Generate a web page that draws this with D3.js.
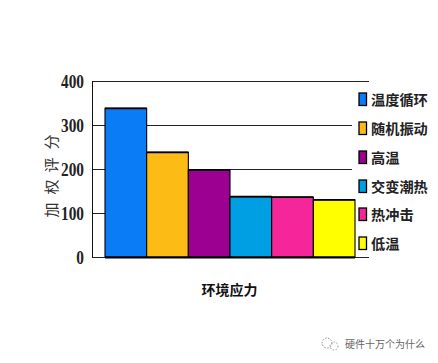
<!DOCTYPE html>
<html><head><meta charset="utf-8">
<script src="https://cdnjs.cloudflare.com/ajax/libs/d3/7.8.5/d3.min.js"></script>
<style>html,body{margin:0;padding:0;background:#fff}svg{display:block}</style></head>
<body><svg id="c" width="438" height="363"></svg>
<script>
const categories=["温度循环","随机振动","高温","交变潮热","热冲击","低温"];
const values=[338,238,198,137,136,130];
const colors=["#0a7cf5","#fdbb16","#9b0090","#009fe3","#f5259a","#ffff00"];
const yTicks=[0,100,200,300,400];
const yTitle="加权评分", xTitle="环境应力", watermark="硬件十万个为什么";
const svg=d3.select("#c");
const cjk='"Noto Sans CJK SC"';
const y=d3.scaleLinear().domain([0,400]).range([257,81]);
const x=d3.scaleBand().domain(categories).range([105,355]);
const L=92,R=369;
svg.append("g").selectAll("line").data(yTicks).join("line")
 .attr("x1",L).attr("x2",d=>(d===0||d===400)?R:352)
 .attr("y1",d=>y(d)+.5).attr("y2",d=>y(d)+.5)
 .attr("stroke","#222").attr("stroke-width",1);
svg.append("line").attr("x1",L+.5).attr("x2",L+.5).attr("y1",81).attr("y2",257).attr("stroke","#111");
svg.append("g").selectAll("text").data(yTicks).join("text")
 .attr("transform",d=>`translate(84,${y(d)+7}) scale(.85,1)`).attr("text-anchor","end")
 .attr("font-family","Liberation Serif").attr("font-weight","bold").attr("font-size",18).attr("fill","#222")
 .text(d=>d);
svg.append("g").selectAll("rect").data(categories).join("rect")
 .attr("x",d=>x(d)).attr("width",x.bandwidth())
 .attr("y",(d,i)=>y(values[i])).attr("height",(d,i)=>y(0)-y(values[i]))
 .attr("fill",(d,i)=>colors[i]).attr("stroke","#000").attr("stroke-width",1.1);
svg.append("g").selectAll("line").data(categories).join("line")
 .attr("x1",d=>x(d)).attr("x2",d=>x(d)+x.bandwidth())
 .attr("y1",(d,i)=>y(values[i])).attr("y2",(d,i)=>y(values[i]))
 .attr("stroke","#000").attr("stroke-width",1.8);
svg.append("line").attr("x1",105).attr("x2",355).attr("y1",257.5).attr("y2",257.5).attr("stroke","#000").attr("stroke-width",1.8);
// y title
svg.append("g").selectAll("text").data(Array.from(yTitle)).join("text")
 .attr("transform",(d,i)=>`translate(50,${[210,187,165,142][i]}) rotate(-90)`)
 .attr("text-anchor","middle").attr("dominant-baseline","central")
 .attr("font-family",cjk).attr("font-size",15).attr("fill","#333").text(d=>d);
// legend
const ly=[99,128,157,186,214,243];
const lg=svg.append("g").selectAll("g").data(categories).join("g").attr("transform",(d,i)=>`translate(0,${ly[i]})`);
lg.append("rect").attr("x",359).attr("y",-6).attr("width",7.5).attr("height",12.5)
 .attr("fill",(d,i)=>colors[i]).attr("stroke","#000").attr("stroke-width",1.3);
lg.append("text").attr("x",371).attr("y",6).attr("font-family",cjk).attr("font-weight","bold")
 .attr("font-size",14.2).attr("fill","#222").text(d=>d);
svg.append("text").attr("x",229.5).attr("y",295).attr("text-anchor","middle").attr("font-family",cjk).attr("font-weight","bold")
 .attr("font-size",14).attr("fill","#111").text(xTitle);
// watermark
svg.append("circle").attr("cx",327).attr("cy",343).attr("r",5).attr("fill","none").attr("stroke","#888").attr("stroke-dasharray","1.5 1.5");
svg.append("circle").attr("cx",334).attr("cy",346).attr("r",4).attr("fill","none").attr("stroke","#999").attr("stroke-dasharray","1.5 1.5");
svg.append("text").attr("x",345).attr("y",348).attr("font-family",cjk).attr("font-size",10).attr("fill","#666").text(watermark);
</script></body></html>
